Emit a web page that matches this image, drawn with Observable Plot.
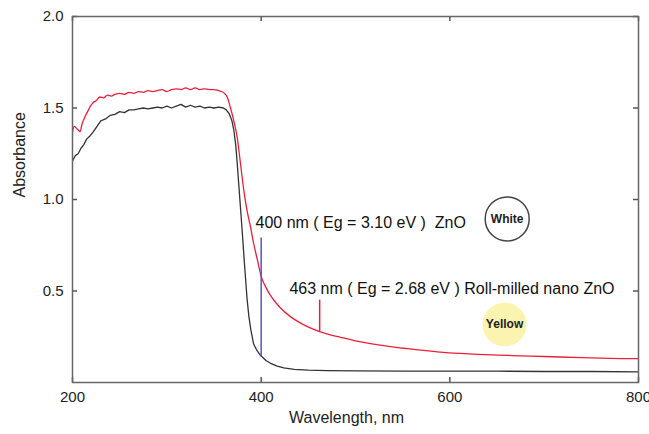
<!DOCTYPE html>
<html>
<head>
<meta charset="utf-8">
<script src="https://cdn.jsdelivr.net/npm/d3@7"></script>
<script src="https://cdn.jsdelivr.net/npm/@observablehq/plot@0.6"></script>
<style>
  html, body { margin: 0; padding: 0; background: #ffffff; }
  #chart svg { display: block; }
</style>
</head>
<body>
<div id="chart"></div>
<script>
// ---- data ----
const xTicks = [200, 400, 600, 800];
const yTicks = [0.5, 1.0, 1.5, 2.0];
const xLabel = "Wavelength, nm";
const yLabel = "Absorbance";

// ZnO (white) — black curve
const wlBlack = [200,203,206,209,212,215,219,222,226,230,235,240,245,250,255,260,265,270,275,280,285,290,295,300,305,310,315,320,325,330,335,340,345,350,355,360,363,366,369,371,373,374.6,376,378,380,381.6,383,385,387,389,392,395,399,405,410,417,424,435,450,470,500,550,600,650,700,750,800];
const absBlack = [1.21,1.24,1.25,1.28,1.30,1.33,1.35,1.37,1.40,1.43,1.44,1.46,1.465,1.48,1.475,1.49,1.49,1.495,1.50,1.495,1.50,1.505,1.50,1.51,1.50,1.51,1.52,1.505,1.515,1.505,1.51,1.50,1.505,1.50,1.505,1.50,1.49,1.47,1.43,1.38,1.30,1.20,1.10,0.96,0.82,0.70,0.60,0.46,0.36,0.29,0.21,0.18,0.15,0.12,0.105,0.09,0.08,0.072,0.068,0.065,0.063,0.062,0.062,0.062,0.060,0.060,0.058];

// Roll-milled nano ZnO (yellow) — red curve
const wlRed = [200,202,204,206,208,210,213,216,219,222,225,229,233,237,241,245,250,255,260,265,270,275,280,285,290,295,300,305,310,315,320,325,330,335,340,345,350,355,358,361,364,367.5,371,374.6,378,381.6,385,388.7,392,396,400,405,410,415,420,431,440,449,462,475,484,500,519,537,555,569,590,620,650,675,700,740,781,800];
const absRed = [1.37,1.40,1.39,1.38,1.37,1.41,1.45,1.48,1.51,1.53,1.54,1.56,1.555,1.57,1.565,1.575,1.58,1.575,1.585,1.58,1.59,1.585,1.595,1.59,1.595,1.60,1.59,1.60,1.605,1.60,1.61,1.60,1.61,1.60,1.605,1.60,1.60,1.595,1.59,1.58,1.56,1.50,1.43,1.34,1.20,1.05,0.94,0.85,0.76,0.67,0.58,0.52,0.475,0.44,0.41,0.36,0.33,0.305,0.278,0.258,0.247,0.228,0.21,0.196,0.185,0.177,0.166,0.156,0.150,0.146,0.142,0.136,0.131,0.13];

// band-gap marker lines
const markerX = [400, 462];
const markerTop = [0.79, 0.45];
const markerBottom = [0.14, 0.278];
const markerColor = ["#5a52c4", "#e8203a"];

// annotation texts
const annoText = ["400 nm ( Eg = 3.10 eV )\u00a0\u00a0ZnO", "463 nm ( Eg = 2.68 eV ) Roll-milled nano ZnO"];
const annoX = [394, 430];
const annoY = [0.875, 0.514];

// colour swatches
const swatchLabel = ["White", "Yellow"];
const swatchX = [660.8, 658];
const swatchY = [0.894, 0.317];
const swatchFill = ["none", "#fbf3b0"];
const swatchStroke = ["#444", "none"];

// ---- build tables ----
const black = wlBlack.map((w, i) => ({w, a: absBlack[i]}));
const red = wlRed.map((w, i) => ({w, a: absRed[i]}));
const markers = markerX.map((x, i) => ({x, y1: markerTop[i], y2: markerBottom[i], c: markerColor[i]}));
const annos = annoText.map((t, i) => ({t, x: annoX[i], y: annoY[i]}));
const swatches = swatchLabel.map((t, i) => ({t, x: swatchX[i], y: swatchY[i], f: swatchFill[i], s: swatchStroke[i]}));

const W = 649, H = 434;
const mT = 16, mB = 52, mL = 72, mR = 11;
const fw = W - mL - mR, fh = H - mT - mB;
const tick = 5;

const chart = Plot.plot({
  width: W,
  height: H,
  marginTop: mT,
  marginBottom: mB,
  marginLeft: mL,
  marginRight: mR,
  style: {fontFamily: "'Liberation Sans', Arial, sans-serif", fontSize: "15px", color: "#222", background: "#ffffff"},
  x: {domain: [200, 800], ticks: xTicks, tickSize: 0, tickPadding: 9, label: null},
  y: {domain: [0, 2], ticks: yTicks, tickSize: 0, tickPadding: 9, tickFormat: d => d.toFixed(1), label: null},
  marks: [
    // inward ticks
    Plot.tickX(xTicks, {x: d => d, insetTop: fh - tick, stroke: "#555", strokeWidth: 1.5}),
    Plot.tickX(xTicks, {x: d => d, insetBottom: fh - tick, stroke: "#555", strokeWidth: 1.5}),
    Plot.tickY(yTicks, {y: d => d, insetRight: fw - tick, stroke: "#555", strokeWidth: 1.5}),
    Plot.tickY(yTicks, {y: d => d, insetLeft: fw - tick, stroke: "#555", strokeWidth: 1.5}),
    // curves
    Plot.line(black, {x: "w", y: "a", stroke: "#333", strokeWidth: 1.3}),
    Plot.line(red, {x: "w", y: "a", stroke: "#ec1f3a", strokeWidth: 1.3, curve: "monotone-x"}),
    // marker lines
    Plot.ruleX(markers, {x: "x", y1: "y1", y2: "y2", stroke: "c", strokeWidth: 1.5}),
    // annotations
    Plot.text(annos, {x: "x", y: "y", text: "t", textAnchor: "start", fontSize: 16, fill: "#111"}),
    // swatches
    Plot.dot(swatches, {x: "x", y: "y", r: 22, fill: "f", stroke: "s", strokeWidth: 1.5}),
    Plot.text(swatches, {x: "x", y: "y", text: "t", fontSize: 12, fontWeight: "bold", fill: "#222"}),
    // frame
    Plot.frame({stroke: "#666", strokeWidth: 1.5}),
    // axis titles
    Plot.text([xLabel], {frameAnchor: "bottom", dy: 40, dx: -9, fontSize: 16, fill: "#222"}),
    Plot.text([yLabel], {frameAnchor: "left", rotate: -90, dx: -53, dy: -2, fontSize: 16, fill: "#222"})
  ]
});
document.getElementById("chart").appendChild(chart);
</script>
</body>
</html>
